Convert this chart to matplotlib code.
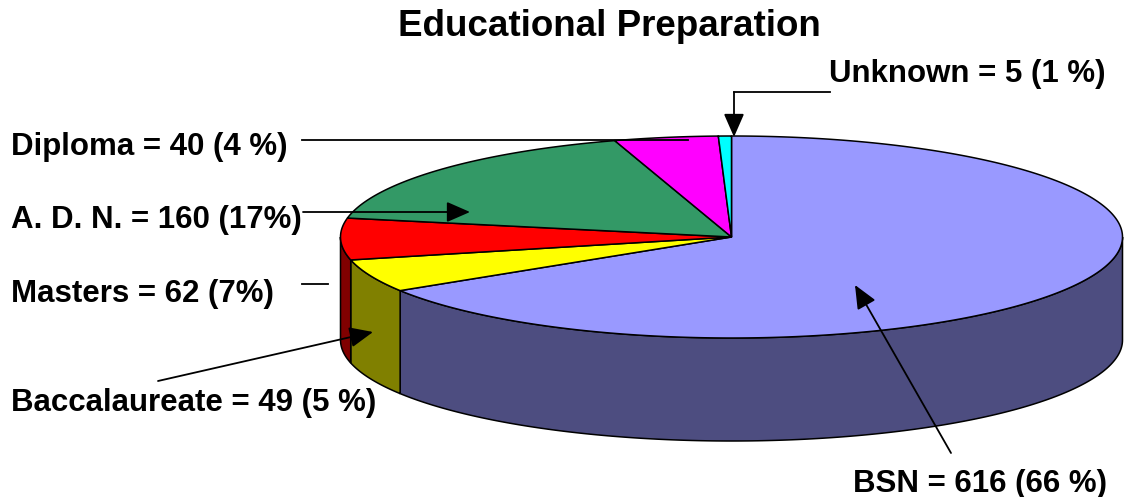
import numpy as np
import matplotlib
matplotlib.use("Agg")
import matplotlib.pyplot as plt
from matplotlib.patches import Polygon

plt.rcParams['font.family'] = ['Liberation Sans', 'DejaVu Sans']

# ---- data ----
categories = ['BSN', 'Baccalaureate', 'Masters', 'A. D. N.', 'Diploma', 'Unknown']
counts = [616, 49, 62, 160, 40, 5]
label_texts = ['BSN = 616 (66 %)', 'Baccalaureate = 49 (5 %)', 'Masters = 62 (7%)',
               'A. D. N. = 160 (17%)', 'Diploma = 40 (4 %)', 'Unknown = 5 (1 %)']
top_colors = ['#9999FF', '#FFFF00', '#FF0000', '#339966', '#FF00FF', '#00FFFF']
side_colors = ['#4D4D80', '#808000', '#800000', '#1A4D33', '#800080', '#008080']
title = 'Educational Preparation'

# ---- layout (pixel space) ----
W, H = 1125, 497
fig = plt.figure(figsize=(W / 100, H / 100), dpi=100)
ax = fig.add_axes([0, 0, 1, 1])
ax.set_xlim(0, W)
ax.set_ylim(H, 0)
ax.axis('off')

cx, cy, a, b, depth = 731.5, 237.0, 391.0, 101.0, 103.0
total = float(sum(counts))


def pt(theta_deg, dz=0.0):
    t = np.radians(theta_deg)
    return cx + a * np.cos(t), cy - b * np.sin(t) + dz


# slice angle ranges: start at 12 o'clock, clockwise
ranges = []
start = 90.0
for v in counts:
    end = start - 360.0 * v / total
    ranges.append((end, start))
    start = end

# side walls (front half: theta in [-180, 0] mod 360)
for (lo, hi), sc in zip(ranges, side_colors):
    for k in (-1, 0, 1):
        flo, fhi = -180.0 + 360 * k, 0.0 + 360 * k
        l, h = max(lo, flo), min(hi, fhi)
        if h - l <= 1e-6:
            continue
        ts = np.linspace(l, h, 200)
        top = [pt(t) for t in ts]
        bot = [pt(t, depth) for t in ts[::-1]]
        ax.add_patch(Polygon(top + bot, closed=True, facecolor=sc,
                             edgecolor='black', linewidth=1.1, zorder=2))

# top faces
for (lo, hi), tc in zip(ranges, top_colors):
    ts = np.linspace(hi, lo, 400)
    poly = [(cx, cy)] + [pt(t) for t in ts]
    ax.add_patch(Polygon(poly, closed=True, facecolor=tc,
                         edgecolor='black', linewidth=1.1, zorder=3,
                         joinstyle='miter'))

# ---- title ----
ax.text(609.5, 36, title, ha='center', va='baseline', fontsize=26.5,
        fontweight='bold', zorder=5)

fs = 22.5
arrow_kw = dict(arrowstyle='-|>,head_length=0.8,head_width=0.35', color='black',
                lw=1.3, mutation_scale=18, shrinkA=0, shrinkB=0)

# BSN
ax.text(853, 492, label_texts[0], ha='left', va='baseline', fontsize=fs,
        fontweight='bold', zorder=5)
ax.annotate('', xy=(855, 285), xytext=(951, 453), arrowprops=arrow_kw, zorder=6)

# Baccalaureate
ax.text(11, 411, label_texts[1], ha='left', va='baseline', fontsize=fs,
        fontweight='bold', zorder=5)
ax.annotate('', xy=(373, 332), xytext=(158, 381), arrowprops=arrow_kw, zorder=6)

# Masters
ax.text(11, 302, label_texts[2], ha='left', va='baseline', fontsize=fs,
        fontweight='bold', zorder=5)
ax.plot([302, 328], [284, 284], color='black', lw=1.3, zorder=6)

# ADN
ax.text(11, 228, label_texts[3], ha='left', va='baseline', fontsize=fs,
        fontweight='bold', zorder=5)
ax.annotate('', xy=(470, 212), xytext=(303, 212), arrowprops=arrow_kw, zorder=6)

# Diploma
ax.text(11, 155, label_texts[4], ha='left', va='baseline', fontsize=fs,
        fontweight='bold', zorder=5)
ax.plot([302, 688], [140, 140], color='black', lw=1.3, zorder=6)

# Unknown
ax.text(829, 82, label_texts[5], ha='left', va='baseline', fontsize=fs,
        fontweight='bold', zorder=5)
ax.plot([830, 734], [92, 92], color='black', lw=1.3, zorder=6)
ax.annotate('', xy=(734, 137), xytext=(734, 92), arrowprops=arrow_kw, zorder=6)

fig.savefig('out.png', dpi=100, facecolor='white')
